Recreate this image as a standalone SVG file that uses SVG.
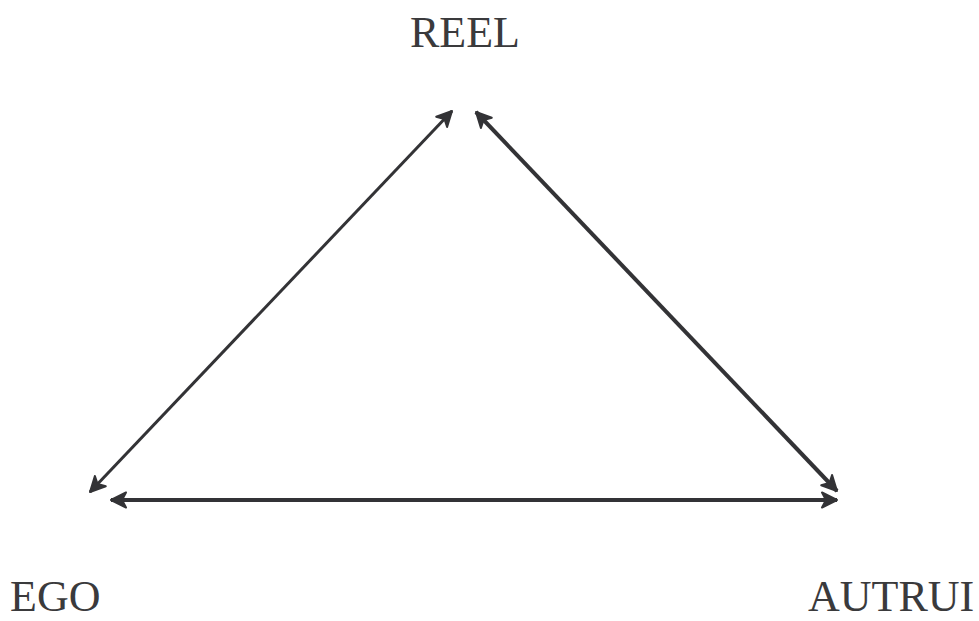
<svg xmlns="http://www.w3.org/2000/svg" width="979" height="621" viewBox="0 0 979 621">
<style>
.lbl{font-family:"Liberation Serif","Times New Roman",serif;font-size:44px;fill:#3a3a3c}
.edge{stroke:#333336;fill:none}
</style>
<defs>
<marker id="ah" markerUnits="userSpaceOnUse" viewBox="-18 -10 20 20" refX="0" refY="0" markerWidth="20" markerHeight="20" orient="auto-start-reverse">
<path d="M0,0 L-15,-7.5 L-11,0 L-15,7.5 Z" fill="#333336" stroke="#333336" stroke-width="2" stroke-linejoin="round"/>
</marker>
</defs>
<rect width="979" height="621" fill="#ffffff"/>
<g id="connectors">
<line class="edge" x1="452" y1="111" x2="90" y2="492" stroke-width="3" marker-start="url(#ah)" marker-end="url(#ah)"/>
<line class="edge" x1="476" y1="112" x2="837" y2="491" stroke-width="4" marker-start="url(#ah)" marker-end="url(#ah)"/>
<line class="edge" x1="111" y1="500" x2="837" y2="500" stroke-width="4" marker-start="url(#ah)" marker-end="url(#ah)"/>
</g>
<g id="reel"><text class="lbl" x="465" y="47" text-anchor="middle">REEL</text></g>
<g id="ego"><text class="lbl" x="10" y="611">EGO</text></g>
<g id="autrui"><text class="lbl" x="808" y="611">AUTRUI</text></g>
</svg>
